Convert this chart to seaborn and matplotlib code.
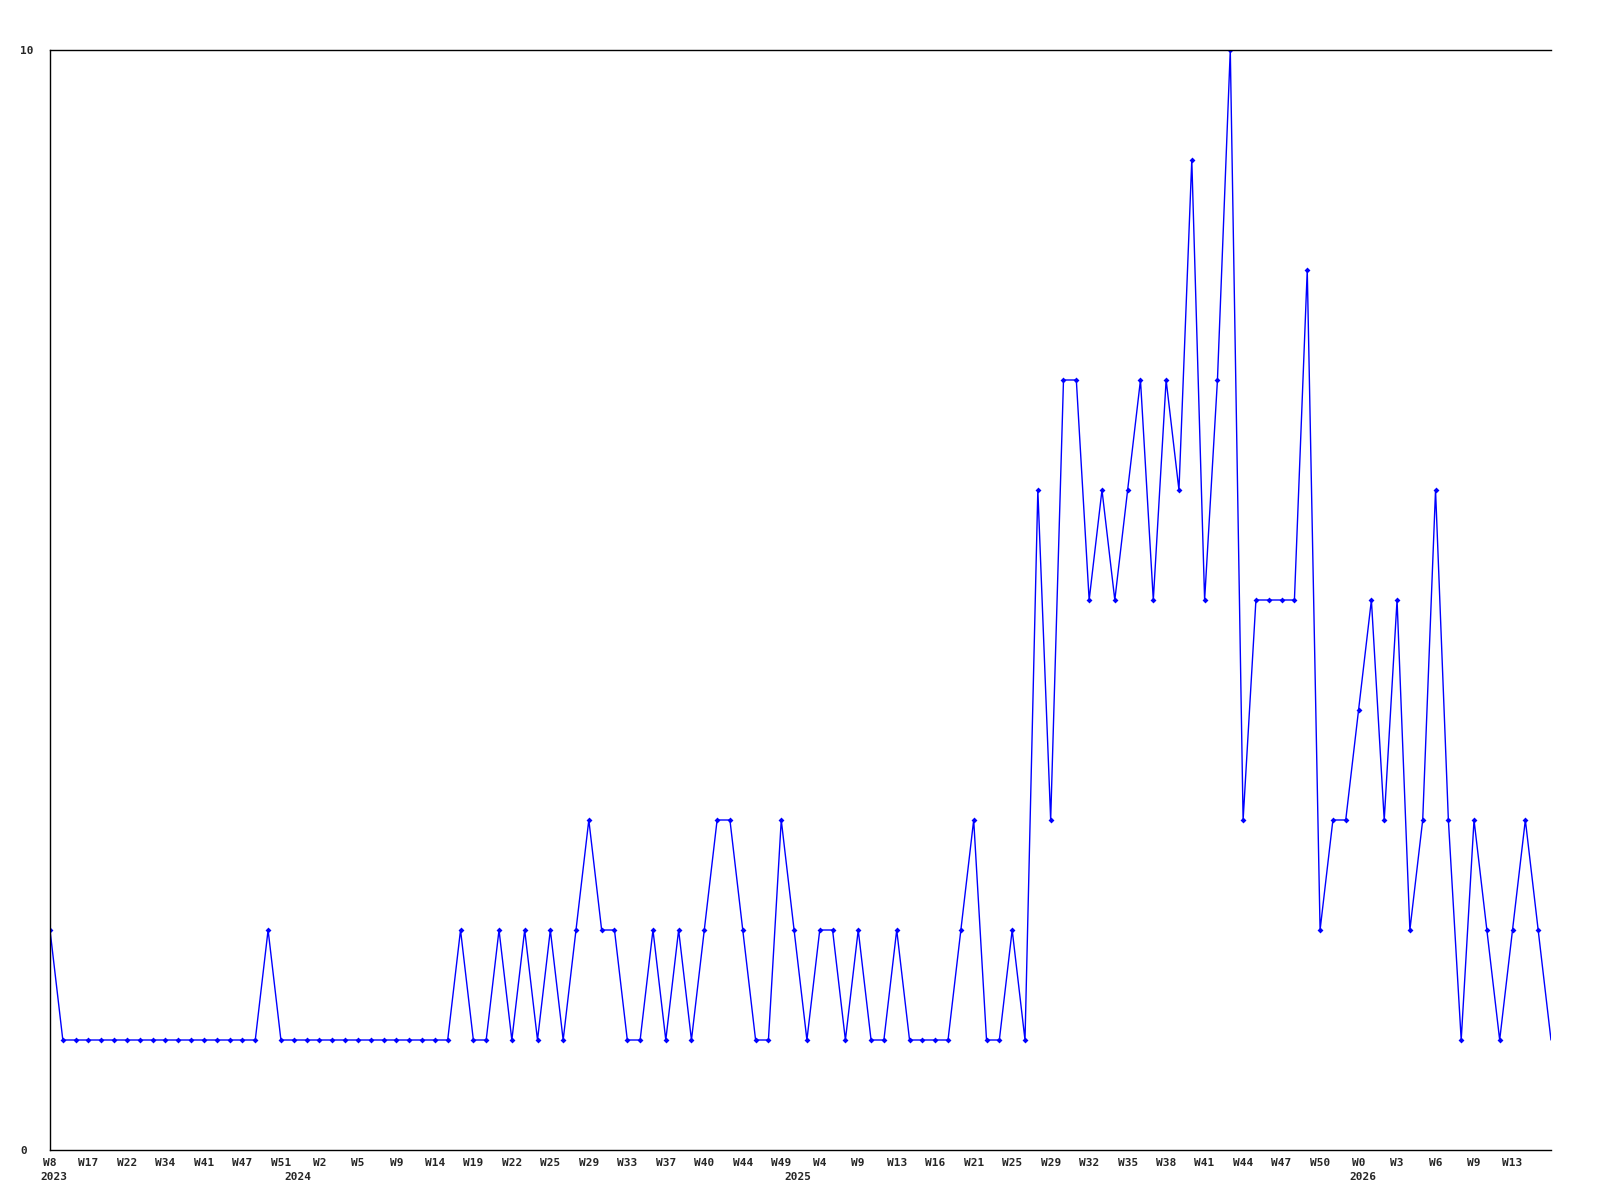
import matplotlib
matplotlib.use("Agg")
import matplotlib.pyplot as plt
import matplotlib.transforms as mtransforms
import pandas as pd
import seaborn as sns

# weekly counts, one value per week that has data
counts = [
    2, 1, 1, 1, 1, 1, 1, 1, 1, 1, 1, 1, 1, 1, 1, 1, 1, 2, 1, 1,
    1, 1, 1, 1, 1, 1, 1, 1, 1, 1, 1, 1, 2, 1, 1, 2, 1, 2, 1, 2,
    1, 2, 3, 2, 2, 1, 1, 2, 1, 2, 1, 2, 3, 3, 2, 1, 1, 3, 2, 1,
    2, 2, 1, 2, 1, 1, 2, 1, 1, 1, 1, 2, 3, 1, 1, 2, 1, 6, 3, 7,
    7, 5, 6, 5, 6, 7, 5, 7, 6, 9, 5, 7, 10, 3, 5, 5, 5, 5, 8, 2,
    3, 3, 4, 5, 3, 5, 2, 3, 6, 3, 1, 3, 2, 1, 2, 3, 2, 1,
]

# labels shown on every third week
week_labels = [
    "W8", "W17", "W22", "W34", "W41", "W47", "W51", "W2", "W5", "W9",
    "W14", "W19", "W22", "W25", "W29", "W33", "W37", "W40", "W44", "W49",
    "W4", "W9", "W13", "W16", "W21", "W25", "W29", "W32", "W35", "W38",
    "W41", "W44", "W47", "W50", "W0", "W3", "W6", "W9", "W13",
]
years = ["2023", "2024", "2025", "2026"]
year_starts = [0, 19, 58, 102]

df = pd.DataFrame({"idx": range(len(counts)), "count": counts})

sns.set_style("white")
plt.rcParams["font.family"] = ["DejaVu Sans Mono"]

fig = plt.figure(figsize=(16, 12), dpi=100)
ax = fig.add_axes([50 / 1600, 50 / 1200, 1501 / 1600, 1100 / 1200])

sns.lineplot(data=df, x="idx", y="count", ax=ax, color="#0000ff", lw=1,
             marker="D", markersize=3, markeredgewidth=0,
             markevery=list(range(len(counts) - 1)))

ax.set_xlim(0, len(counts) - 1)
ax.set_ylim(0, 10)
ax.set_xlabel("")
ax.set_ylabel("")

ax.set_xticks(range(0, 3 * len(week_labels), 3))
ax.set_xticklabels(week_labels, fontsize=8, fontweight="bold")
ax.set_yticks([0, 10])
ax.set_yticklabels(["0", "10"], fontsize=8, fontweight="bold")
for lab in ax.get_yticklabels():
    lab.set_horizontalalignment("left")
ax.tick_params(axis="x", length=0, pad=5.5)
ax.tick_params(axis="y", length=0, pad=21.5)

trans = mtransforms.blended_transform_factory(ax.transData, ax.transAxes)
for yr, pos in zip(years, year_starts):
    ax.text(pos + 0.3, -0.02, yr, transform=trans, ha="center", va="top",
            fontsize=8, fontweight="bold")

for side in ["left", "bottom", "top"]:
    ax.spines[side].set_color("black")
    ax.spines[side].set_linewidth(1)
ax.spines["right"].set_visible(False)

fig.savefig("out.png", dpi=100)
